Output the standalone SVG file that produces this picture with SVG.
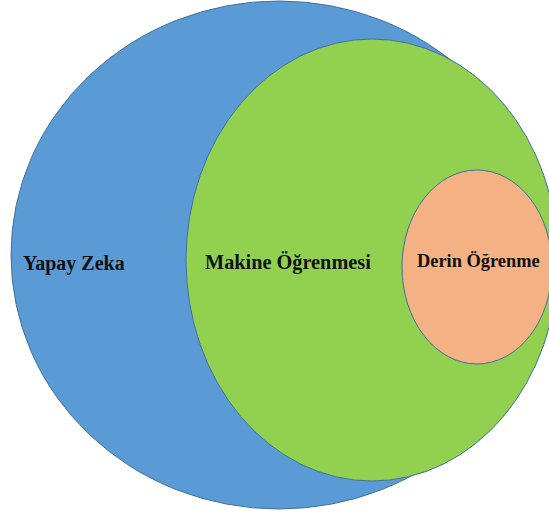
<svg xmlns="http://www.w3.org/2000/svg" width="549" height="517" viewBox="0 0 549 517">
<style>
.c{stroke:#41719C;stroke-width:1}
.t{font-family:"Liberation Serif","Times New Roman",serif;font-weight:bold;fill:#111}
</style>
<rect width="549" height="517" fill="#fff"/>
<g id="yapay-zeka">
<ellipse class="c" cx="279" cy="255" rx="268" ry="254" fill="#5B9BD5"/>
<text class="t" x="23" y="270" font-size="20">Yapay Zeka</text>
</g>
<g id="makine-ogrenmesi">
<ellipse class="c" cx="372" cy="260" rx="186" ry="221" fill="#92D050"/>
<text class="t" x="205" y="269" font-size="20.3">Makine Öğrenmesi</text>
</g>
<g id="derin-ogrenme">
<ellipse class="c" cx="477" cy="267" rx="75" ry="97" fill="#F4B183"/>
<text class="t" x="417" y="267" font-size="18.4">Derin Öğrenme</text>
</g>
<g id="connectors"/>
</svg>
